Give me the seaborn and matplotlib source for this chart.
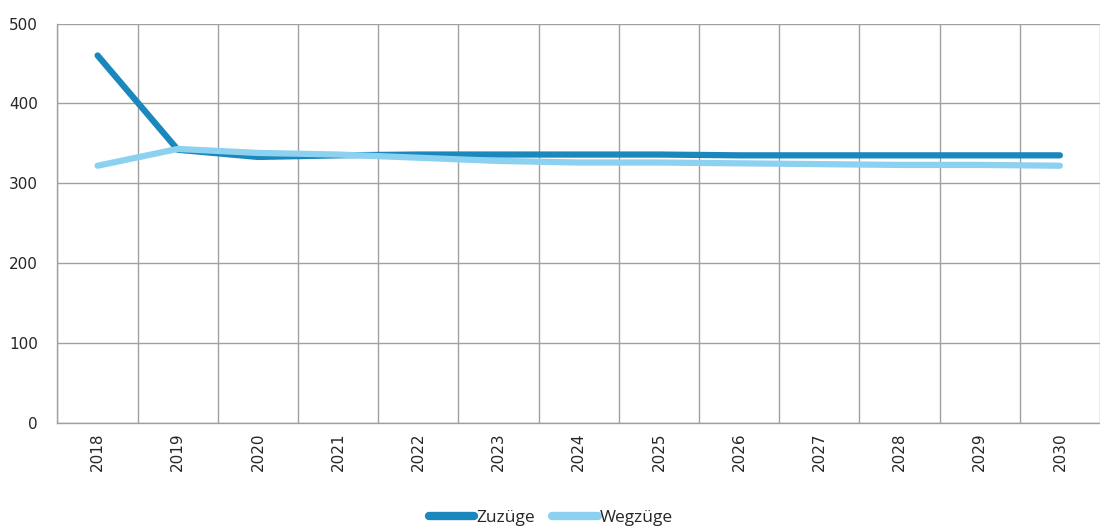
import matplotlib
matplotlib.use("Agg")
import matplotlib.pyplot as plt
import seaborn as sns
import pandas as pd
import numpy as np
from matplotlib.lines import Line2D

years = ["2018", "2019", "2020", "2021", "2022", "2023", "2024",
         "2025", "2026", "2027", "2028", "2029", "2030"]
zuzuege = [460, 342, 333, 335, 336, 336, 336, 336, 335, 335, 335, 335, 335]
wegzuege = [322, 343, 338, 336, 332, 328, 326, 326, 325, 324, 323, 323, 322]
series_names = ["Zuzüge", "Wegzüge"]
y_ticks = [0, 100, 200, 300, 400, 500]
title_text = "Zuzüge - Wegzüge"

colors = {"Zuzüge": "#1a87bd", "Wegzüge": "#8dd1f0"}

df = pd.DataFrame({
    "Jahr": years * 2,
    "Wert": zuzuege + wegzuege,
    "Reihe": [series_names[0]] * len(years) + [series_names[1]] * len(years),
})

sns.set_theme(style="white")
plt.rcParams["font.family"] = ["DejaVu Sans"]

fig = plt.figure(figsize=(11, 5.3), dpi=100)
ax = fig.add_axes([57.5 / 1100, 1 - 423 / 530, 1 - 57.5 / 1100, (423 - 23.5) / 530])

sns.lineplot(data=df, x="Jahr", y="Wert", hue="Reihe", palette=colors,
             linewidth=4.5, ax=ax, legend=False, sort=False)
for ln in ax.get_lines():
    ln.set_solid_capstyle("round")
    ln.set_solid_joinstyle("round")

n = len(years)
ax.set_xlim(-0.5, (1100 - 98) / 81.25)
ax.set_ylim(0, 500)
ax.set_yticks(y_ticks)
ax.set_yticklabels([str(v) for v in y_ticks], fontsize=11)
ax.set_xticks(np.arange(-0.5, n, 1.0))
ax.set_xticklabels([""] * len(np.arange(-0.5, n, 1.0)))
ax.set_xticks(np.arange(n), minor=True)
ax.set_xticklabels(years, minor=True, rotation=90, fontsize=11)
ax.tick_params(axis="x", which="major", length=5, width=1, color="#a0a0a0", direction="out")
ax.tick_params(axis="x", which="minor", length=0, pad=7)
ax.tick_params(axis="y", which="major", length=6, width=1, color="#a0a0a0", direction="out", pad=8)
ax.grid(True, which="major", color="#a0a0a0", linewidth=1)
ax.set_axisbelow(True)
ax.set_xlabel("")
ax.set_ylabel("")
for s in ["top", "right"]:
    ax.spines[s].set_visible(False)
for s in ["left", "bottom"]:
    ax.spines[s].set_color("#a0a0a0")
    ax.spines[s].set_linewidth(1)

handles = [Line2D([0], [0], color=colors[nm], lw=6, solid_capstyle="round") for nm in series_names]
fig.legend(handles, series_names, loc="center", bbox_to_anchor=(551 / 1100, 1 - 518 / 530),
           ncol=2, frameon=False, handlelength=2.6, handletextpad=0.15, columnspacing=1.0,
           prop={"family": "Open Sans", "size": 12.5})

fig.text(544 / 1100, 1.0 + 4.5 / 530, title_text, ha="left", va="baseline",
         fontsize=13.7, fontweight="bold")

fig.savefig("out.png", dpi=100)
